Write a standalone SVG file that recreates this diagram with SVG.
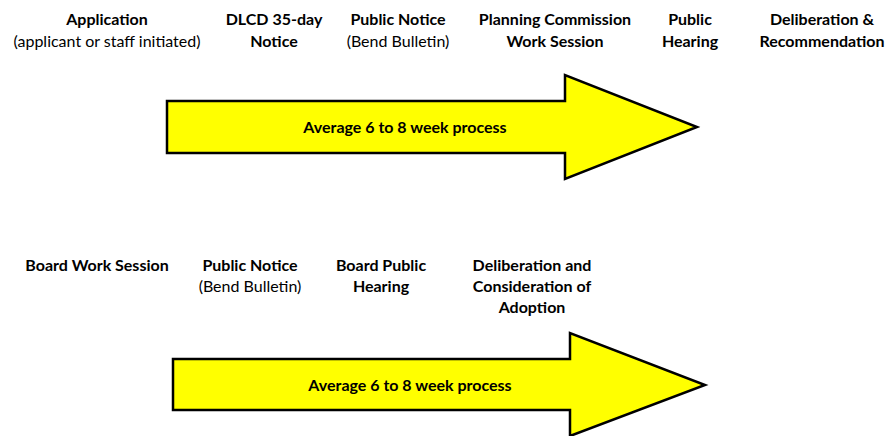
<svg xmlns="http://www.w3.org/2000/svg" width="887" height="436" viewBox="0 0 887 436">
<style>
text{font-family:Lato,"Open Sans","Liberation Sans",sans-serif;font-size:16px;fill:#000;text-anchor:middle}
.b{font-weight:bold}
.arrow{fill:#ffff00;stroke:#000;stroke-width:2.5;stroke-linejoin:miter}
</style>
<rect width="887" height="436" fill="#fff"/>
<g id="row1">
<g id="n-application"><text class="b" x="107" y="25">Application</text><text x="107" y="47">(applicant or staff initiated)</text></g>
<g id="n-dlcd"><text class="b" x="274" y="25">DLCD 35-day</text><text class="b" x="274" y="47">Notice</text></g>
<g id="n-notice1"><text class="b" x="398" y="25">Public Notice</text><text x="398" y="47">(Bend Bulletin)</text></g>
<g id="n-pcws"><text class="b" x="555" y="25">Planning Commission</text><text class="b" x="555" y="47">Work Session</text></g>
<g id="n-hearing1"><text class="b" x="690" y="25">Public</text><text class="b" x="690" y="47">Hearing</text></g>
<g id="n-delib1"><text class="b" x="822" y="25">Deliberation &amp;</text><text class="b" x="822" y="47">Recommendation</text></g>
</g>
<g id="arrow1">
<path class="arrow" d="M167,101 H565 V75 L697,127 L565,179 V153 H167 Z"/>
<text class="b" x="405" y="133">Average 6 to 8 week process</text>
</g>
<g id="row2">
<g id="n-bws"><text class="b" x="97" y="271">Board Work Session</text></g>
<g id="n-notice2"><text class="b" x="250" y="271">Public Notice</text><text x="250" y="292">(Bend Bulletin)</text></g>
<g id="n-hearing2"><text class="b" x="381" y="271">Board Public</text><text class="b" x="381" y="292">Hearing</text></g>
<g id="n-delib2"><text class="b" x="532" y="271">Deliberation and</text><text class="b" x="532" y="292">Consideration of</text><text class="b" x="532" y="313">Adoption</text></g>
</g>
<g id="arrow2">
<path class="arrow" d="M173,359 H570 V333 L705,385 L570,436 V410 H173 Z"/>
<text class="b" x="410" y="391">Average 6 to 8 week process</text>
</g>
<g id="connectors"/>
</svg>
